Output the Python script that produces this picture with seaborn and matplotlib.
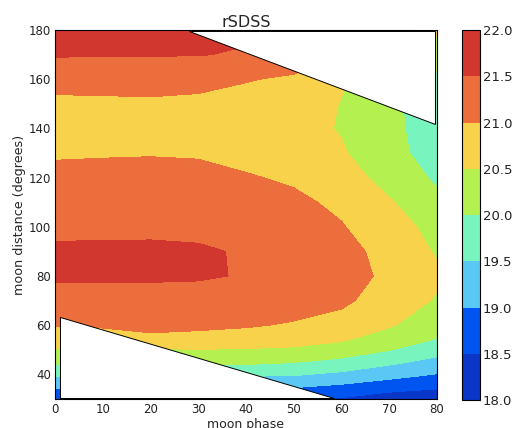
import numpy as np
import matplotlib
matplotlib.use("Agg")
import matplotlib.pyplot as plt
from matplotlib.colors import ListedColormap
import seaborn as sns

# grid of sky brightness (mag), one list per moon distance row
moon_phase = [0, 10, 20, 30, 40, 50, 60, 70, 80]
moon_distance = [30, 35, 40, 45, 50, 55, 60, 70, 80, 90, 100, 110, 120, 130, 140, 150, 160, 170, 180]

mag_d30 = [18.55, 18.55, 18.55, 18.55, 18.55, 18.55, 18.45, 18.25, 18.05]
mag_d35 = [19.06, 19.06, 19.06, 19.06, 19.06, 19.04, 18.90, 18.70, 18.60]
mag_d40 = [19.60, 19.60, 19.60, 19.60, 19.58, 19.55, 19.40, 19.20, 18.98]
mag_d45 = [20.09, 20.09, 20.09, 20.10, 20.10, 20.02, 19.85, 19.60, 19.35]
mag_d50 = [20.45, 20.45, 20.45, 20.48, 20.46, 20.42, 20.30, 20.02, 19.70]
mag_d55 = [20.85, 20.90, 20.97, 20.95, 20.88, 20.75, 20.60, 20.30, 20.02]
mag_d60 = [21.02, 21.03, 21.05, 21.04, 21.03, 20.97, 20.85, 20.55, 20.20]
mag_d70 = [21.32, 21.31, 21.30, 21.30, 21.25, 21.15, 21.08, 20.80, 20.45]
mag_d80 = [21.56, 21.57, 21.57, 21.55, 21.47, 21.30, 21.20, 20.90, 20.60]
mag_d90 = [21.57, 21.57, 21.57, 21.54, 21.47, 21.30, 21.15, 20.85, 20.45]
mag_d100 = [21.40, 21.41, 21.42, 21.42, 21.35, 21.22, 21.03, 20.70, 20.35]
mag_d110 = [21.30, 21.33, 21.35, 21.33, 21.22, 21.10, 20.90, 20.55, 20.10]
mag_d120 = [21.12, 21.15, 21.17, 21.15, 21.04, 20.93, 20.75, 20.30, 19.93]
mag_d130 = [20.95, 20.96, 20.97, 20.95, 20.85, 20.75, 20.55, 20.15, 19.80]
mag_d140 = [20.80, 20.80, 20.80, 20.80, 20.70, 20.65, 20.47, 20.10, 19.80]
mag_d150 = [20.97, 20.96, 20.96, 20.95, 20.88, 20.80, 20.48, 20.10, 19.75]
mag_d160 = [21.05, 21.08, 21.10, 21.07, 21.02, 20.95, 20.55, 20.20, 19.90]
mag_d170 = [21.55, 21.54, 21.53, 21.52, 21.45, 21.20, 21.00, 20.50, 20.20]
mag_d180 = [21.75, 21.77, 21.78, 21.75, 21.60, 21.60, 21.55, 21.52, 20.60]

levels = [18.0, 18.5, 19.0, 19.5, 20.0, 20.5, 21.0, 21.5, 22.0]
band_colors = ["#0a37c8", "#0055f0", "#5ac8f5", "#78f5be",
               "#b4f050", "#f9d24b", "#eb6e3c", "#d2372f"]

# regions with no observations (drawn white over the contours)
mask_top_x = [28, 79.6, 79.6]
mask_top_y = [179.6, 179.6, 142]
mask_bottom_x = [1, 1, 58.5]
mask_bottom_y = [63.5, 30.3, 30.3]

sns.set_theme(style="white")
plt.rcParams["font.family"] = ["DejaVu Sans"]

mag = np.array([mag_d30, mag_d35, mag_d40, mag_d45, mag_d50, mag_d55, mag_d60,
                mag_d70, mag_d80, mag_d90, mag_d100, mag_d110, mag_d120, mag_d130,
                mag_d140, mag_d150, mag_d160, mag_d170, mag_d180])

fig = plt.figure(figsize=(5.12, 4.28), dpi=100)
ax = fig.add_axes([0.1074, 0.0678, 0.746, 0.862])
cax = fig.add_axes([0.9018, 0.0654, 0.0358, 0.8645])

cmap = ListedColormap(band_colors)
cs = ax.contourf(moon_phase, moon_distance, mag, levels=levels, cmap=cmap)

ax.fill(mask_top_x, mask_top_y, facecolor="white", edgecolor="black", linewidth=0.7, zorder=3)
ax.fill(mask_bottom_x, mask_bottom_y, facecolor="white", edgecolor="black", linewidth=0.7, zorder=3)

ax.set_xlim(0, 80)
ax.set_ylim(30, 180)
ax.set_xticks(range(0, 81, 10))
ax.set_yticks(range(40, 181, 20))
ax.tick_params(direction="in", top=True, right=True, length=4, width=0.6,
               labelsize=8.5, colors="#222222", pad=3)
for side in ax.spines.values():
    side.set_color("black")
    side.set_linewidth(0.8)
ax.set_title("rSDSS", fontsize=11.5, pad=2)
ax.set_xlabel("moon phase", fontsize=9, labelpad=1)
ax.set_ylabel("moon distance (degrees)", fontsize=9.2, labelpad=2)

cb = fig.colorbar(cs, cax=cax, ticks=levels, format="%.1f")
cb.outline.set_edgecolor("black")
cb.outline.set_linewidth(0.8)
cax.tick_params(direction="in", length=3, width=0.6, labelsize=9.5, colors="#222222", pad=2)

fig.savefig("out.png", dpi=100)
